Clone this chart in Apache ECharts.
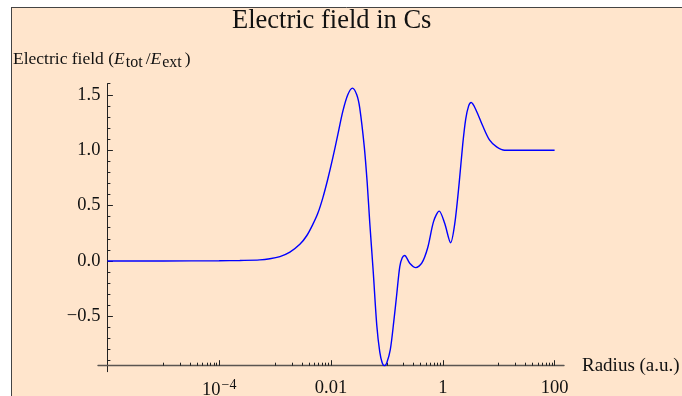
<!DOCTYPE html>
<html>
<head>
<meta charset="utf-8">
<script src="https://cdn.jsdelivr.net/npm/echarts@6/dist/echarts.min.js"></script>
<style>
    html, body { margin: 0; padding: 0; background: #fff; }
    #chart { width: 682px; height: 396px; }
</style>
</head>
<body>
<div id="chart"></div>
<script>
// Radius in a.u. and field E_tot/E_ext
const radius = [1e-6, 1e-5, 1e-4, 2.34e-4, 5.33e-4, 8.05e-4, 1.22e-3, 1.84e-3, 2.77e-3, 3.70e-3,
    4.73e-3, 5.81e-3, 7.14e-3, 8.77e-3, 0.01076, 0.01324, 0.01626, 0.01996,
    0.0242, 0.0289, 0.0327, 0.0394, 0.0445, 0.0493, 0.0570, 0.0659, 0.0745, 0.0826, 0.0904,
    0.0994, 0.115, 0.1325, 0.150, 0.170, 0.188, 0.208, 0.256, 0.328, 0.420, 0.537, 0.687,
    0.862, 1.08, 1.38, 1.63, 1.96, 2.27, 2.57, 2.90, 3.22, 3.87, 5.17, 6.89, 9.18, 12.8, 100];
const field = [0.0, 0.0, 0.002, 0.005, 0.01, 0.02, 0.04, 0.08, 0.15, 0.23,
    0.33, 0.43, 0.57, 0.74, 0.93, 1.14, 1.35, 1.50,
    1.56, 1.50, 1.38, 1.03, 0.70, 0.35, -0.10, -0.58, -0.82, -0.92, -0.945,
    -0.92, -0.80, -0.55, -0.30, -0.05, 0.03, 0.05, -0.02, -0.06, -0.02, 0.12, 0.36,
    0.45, 0.34, 0.165, 0.33, 0.70, 1.05, 1.28, 1.40, 1.43, 1.37, 1.22, 1.09, 1.03, 1.0, 1.0];

// Tick positions and labels
const xMajorTicks = [1e-4, 1e-2, 1, 100];
const xTickLabels = ['10^\u22124', '0.01', '1', '100'];
const xMinorDecades = [1e-5, 1e-3, 1e-1, 10];
const yMajorTicks = [-0.5, 0, 0.5, 1.0, 1.5];
const yTickLabels = ['\u22120.5', '0.0', '0.5', '1.0', '1.5'];
const yMinorTicks = [-0.9, -0.8, -0.7, -0.6, -0.4, -0.3, -0.2, -0.1, 0.1, 0.2, 0.3, 0.4,
    0.6, 0.7, 0.8, 0.9, 1.1, 1.2, 1.3, 1.4, 1.6];

const FONT = '"Liberation Serif", "DejaVu Serif", serif';
const INK = '#111';

const xMinorTicks = [];
xMinorDecades.forEach(function (d) {
    for (let k = 1; k <= 9; k++) xMinorTicks.push(Math.log10(k * d));
});

function xLabel(v) {
    const i = xMajorTicks.findIndex(function (t) { return Math.abs(Math.log10(t) - v) < 1e-6; });
    if (i < 0) return '';
    const parts = xTickLabels[i].split('^');
    if (parts.length > 1) return '{n|' + parts[0] + '}{sup|' + parts[1] + '}';
    return '{n|' + parts[0] + '}';
}

function yLabel(v) {
    const i = yMajorTicks.findIndex(function (t) { return Math.abs(t - v) < 1e-6; });
    return i < 0 ? '' : yTickLabels[i];
}

const chart = echarts.init(document.getElementById('chart'));

const plotLeft = 107.4, plotTop = 83.7, plotW = 447.2, plotH = 282;
const noZero = { onZero: false, show: false };

chart.setOption({
    backgroundColor: '#FFE5CC',
    animation: false,
    title: [
        {
            text: 'Electric field in Cs',
            left: 232, top: 8, padding: 0,
            textStyle: { fontFamily: FONT, fontSize: 26.5, fontWeight: 'normal', color: INK }
        },
        {
            text: '{n|Electric field (}{i|E}{s|tot}{n|/}{i|E}{s|ext}{n|)}',
            left: 13, top: 47, padding: 0,
            textStyle: {
                fontWeight: 'normal',
                rich: {
                    n: { fontFamily: FONT, fontSize: 17.5, fontWeight: 'normal', color: INK },
                    i: { fontFamily: FONT, fontSize: 17.5, fontWeight: 'normal', fontStyle: 'italic', color: INK, padding: [0, 1, 0, 0] },
                    s: { fontFamily: FONT, fontSize: 16, fontWeight: 'normal', color: INK, padding: [8, 3, 0, 0] }
                }
            }
        }
    ],
    graphic: [
        { type: 'rect', silent: true, shape: { x: 0, y: 0, width: 682, height: 7 }, style: { fill: '#fff' } },
        { type: 'rect', silent: true, shape: { x: 0, y: 0, width: 11, height: 396 }, style: { fill: '#fff' } },
        { type: 'line', silent: true, shape: { x1: 11, y1: 7.5, x2: 682, y2: 7.5 }, style: { stroke: '#444', lineWidth: 1 } },
        { type: 'line', silent: true, shape: { x1: 11.5, y1: 7, x2: 11.5, y2: 396 }, style: { stroke: '#444', lineWidth: 1 } }
    ],
    grid: [
        { left: plotLeft, top: plotTop, width: plotW, height: plotH, outerBoundsMode: 'none' },
        { left: 98, top: plotTop, width: 466, height: plotH, outerBoundsMode: 'none' },
        { left: plotLeft, top: plotTop, width: plotW, height: 288, outerBoundsMode: 'none' }
    ],
    xAxis: [
        {
            gridIndex: 0, type: 'value', min: -6, max: 2, position: 'bottom',
            axisLine: noZero, splitLine: { show: false },
            axisTick: {
                customValues: xMajorTicks.map(Math.log10), inside: true, length: 5.5,
                lineStyle: { color: '#222', width: 1 }
            },
            axisLabel: {
                customValues: xMajorTicks.map(Math.log10), margin: 13, formatter: xLabel,
                rich: {
                    n: { fontFamily: FONT, fontSize: 18.5, color: INK },
                    sup: { fontFamily: FONT, fontSize: 14, color: INK, padding: [0, 0, 9, 1] }
                }
            }
        },
        {
            gridIndex: 0, type: 'value', min: -6, max: 2, position: 'bottom',
            axisLine: noZero, splitLine: { show: false }, axisLabel: { show: false },
            axisTick: {
                customValues: xMinorTicks, inside: true, length: 3,
                lineStyle: { color: '#222', width: 1 }
            }
        },
        {
            gridIndex: 1, type: 'value', min: 0, max: 1, position: 'bottom',
            axisLine: { show: true, onZero: false, lineStyle: { color: '#5a5550', width: 1.4 } },
            axisTick: { show: false }, axisLabel: { show: false }, splitLine: { show: false },
            name: 'Radius (a.u.)', nameLocation: 'end', nameGap: 18,
            nameTextStyle: { fontFamily: FONT, fontSize: 19, color: INK, verticalAlign: 'middle' }
        },
        { gridIndex: 2, type: 'value', show: false, min: 0, max: 1 }
    ],
    yAxis: [
        {
            gridIndex: 0, type: 'value', min: -0.945, max: 1.6, position: 'left',
            axisLine: noZero, splitLine: { show: false },
            axisTick: {
                customValues: yMajorTicks, inside: true, length: 5.5,
                lineStyle: { color: '#222', width: 1 }
            },
            axisLabel: {
                customValues: yMajorTicks, margin: 7, formatter: yLabel,
                fontFamily: FONT, fontSize: 18.5, color: INK, padding: [4, 0, 0, 0]
            }
        },
        {
            gridIndex: 0, type: 'value', min: -0.945, max: 1.6, position: 'left',
            axisLine: noZero, splitLine: { show: false }, axisLabel: { show: false },
            axisTick: {
                customValues: yMinorTicks, inside: true, length: 3,
                lineStyle: { color: '#222', width: 1 }
            }
        },
        { gridIndex: 1, type: 'value', show: false, min: 0, max: 1 },
        {
            gridIndex: 2, type: 'value', min: 0, max: 1, position: 'left',
            axisLine: { show: true, onZero: false, lineStyle: { color: '#222', width: 1 } },
            axisTick: { show: false }, axisLabel: { show: false }, splitLine: { show: false }
        }
    ],
    series: [
        {
            type: 'line',
            xAxisIndex: 0, yAxisIndex: 0,
            data: radius.map(function (r, i) { return [Math.log10(r), field[i]]; }),
            showSymbol: false,
            smooth: 0.3,
            lineStyle: { color: '#0000ff', width: 1.4 }
        }
    ]
});
</script>
</body>
</html>
